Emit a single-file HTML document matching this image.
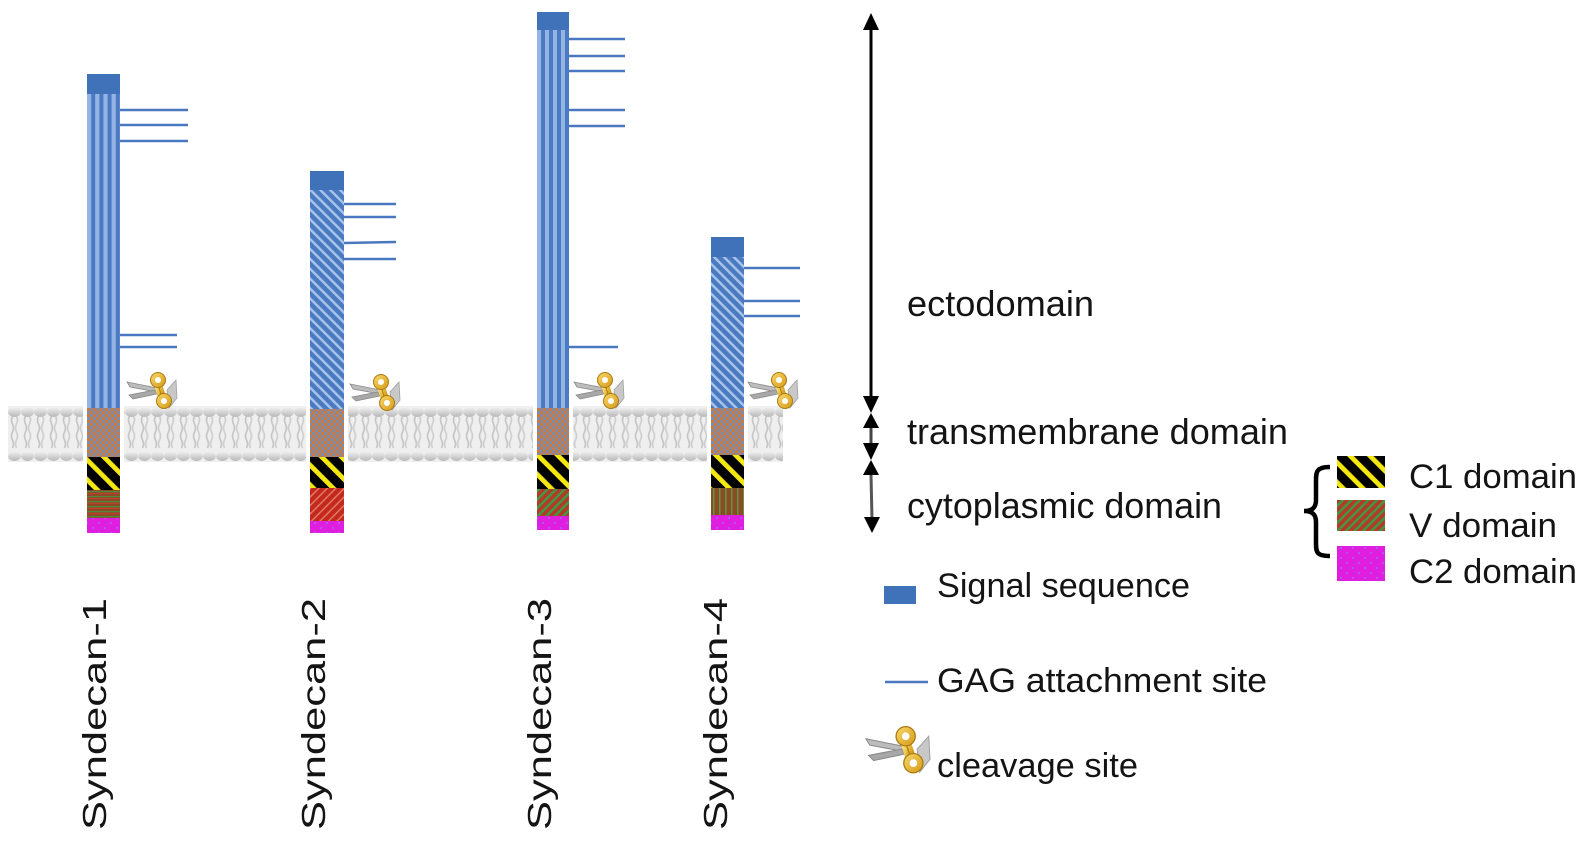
<!DOCTYPE html>
<html><head><meta charset="utf-8"><style>
html,body{margin:0;padding:0;background:#fff;}
svg{display:block;}
text{font-family:"Liberation Sans",sans-serif;fill:#141414;}
</style></head><body>
<svg width="1587" height="845" viewBox="0 0 1587 845" xmlns="http://www.w3.org/2000/svg">
<defs>
  <linearGradient id="hg" x1="0" y1="0" x2="0" y2="1">
    <stop offset="0" stop-color="#f2f2f2"/><stop offset="1" stop-color="#b8b8b8"/>
  </linearGradient>
  <linearGradient id="gold" x1="0" y1="0" x2="1" y2="1">
    <stop offset="0" stop-color="#f8d86a"/><stop offset="1" stop-color="#d69a18"/>
  </linearGradient>
  <pattern id="mem" width="13" height="56" patternUnits="userSpaceOnUse" patternTransform="translate(8,406)">
    <rect width="13" height="56" fill="#efefef"/>
    <path d="M4.5 10 q-2 4 0 8 q2 4 0 8 q-2 4 0 8 q2 4 0 8" fill="none" stroke="#c6c6c6" stroke-width="1.7"/>
    <path d="M8.5 10 q2 4 0 8 q-2 4 0 8 q2 4 0 8 q-2 4 0 8" fill="none" stroke="#cfcfcf" stroke-width="1.7"/>
    <ellipse cx="6.5" cy="6" rx="6.4" ry="5" fill="url(#hg)"/>
    <ellipse cx="6.5" cy="50" rx="6.4" ry="5" fill="url(#hg)"/>
  </pattern>
  <pattern id="vs1" width="8.2" height="10" patternUnits="userSpaceOnUse" patternTransform="translate(87,0)">
    <rect width="8.2" height="10" fill="#4a7bc2"/><rect width="4.2" height="10" fill="#94b4e4"/>
  </pattern>
  <pattern id="vs3" width="8" height="10" patternUnits="userSpaceOnUse" patternTransform="translate(537,0)">
    <rect width="8" height="10" fill="#4a7bc2"/><rect width="4" height="10" fill="#94b4e4"/>
  </pattern>
  <pattern id="dh" width="7" height="7" patternUnits="userSpaceOnUse" patternTransform="rotate(-45)">
    <rect width="7" height="7" fill="#4a7bc0"/><rect width="2.4" height="7" fill="#aac4ec"/>
  </pattern>
  <pattern id="chk" width="6" height="6" patternUnits="userSpaceOnUse">
    <rect width="6" height="6" fill="#c97a3c"/><rect width="3" height="3" fill="#7d8cae"/><rect x="3" y="3" width="3" height="3" fill="#7d8cae"/>
  </pattern>
  <pattern id="c1" width="14" height="14" patternUnits="userSpaceOnUse" patternTransform="rotate(-45)">
    <rect width="14" height="14" fill="#000"/><rect width="4.8" height="14" fill="#f4e810"/>
  </pattern>
  <pattern id="vleg" width="6" height="6" patternUnits="userSpaceOnUse" patternTransform="rotate(45)">
    <rect width="6" height="6" fill="#b23a28"/><rect width="2.4" height="6" fill="#3f9a40"/>
  </pattern>
  <pattern id="v1" width="10" height="5" patternUnits="userSpaceOnUse">
    <rect width="10" height="5" fill="#8c4a28"/><rect y="1" width="10" height="1.2" fill="#4e8c3c"/><rect y="3" width="10" height="1" fill="#c0402a"/>
  </pattern>
  <pattern id="v2" width="6" height="6" patternUnits="userSpaceOnUse" patternTransform="rotate(45)">
    <rect width="6" height="6" fill="#c4281e"/><rect width="1.5" height="6" fill="#e07a62"/>
  </pattern>
  <pattern id="v4" width="6" height="10" patternUnits="userSpaceOnUse" patternTransform="translate(711,0)">
    <rect width="6" height="10" fill="#8c4a28"/><rect x="2" width="1.5" height="10" fill="#5a9a3a"/>
  </pattern>
  <pattern id="c2" width="12" height="10" patternUnits="userSpaceOnUse">
    <rect width="12" height="10" fill="#e01ee0"/><circle cx="3" cy="3" r="0.9" fill="#8a7ef0"/><circle cx="9" cy="8" r="0.9" fill="#8a7ef0"/>
  </pattern>
  <g id="sc">
    <polygon points="0,10 30,16 30,20 3,15" fill="#bcbcbc" stroke="#8a8a8a" stroke-width="0.8"/>
    <polygon points="2,23 28,18 30,22 6,27" fill="#a8a8a8" stroke="#8a8a8a" stroke-width="0.8"/>
    <polygon points="40,18 49,8 50,26 42,36" fill="#c8c8c8" stroke="#a0a0a0" stroke-width="0.8"/>
    <path d="M31 13 L35 25" stroke="url(#gold)" stroke-width="8" stroke-linecap="round"/>
    <path d="M31 13 L35 25" stroke="#b07c10" stroke-width="1" fill="none"/>
    <circle cx="31" cy="8" r="7.5" fill="url(#gold)" stroke="#a87a10" stroke-width="1"/>
    <circle cx="31" cy="8" r="3" fill="#fff"/>
    <circle cx="37" cy="29" r="7.5" fill="url(#gold)" stroke="#a87a10" stroke-width="1"/>
    <circle cx="37" cy="29" r="3" fill="#fff"/>
  </g>
</defs>

<!-- membrane -->
<rect x="8" y="406" width="775" height="56" fill="url(#mem)"/>
<rect x="83" y="400" width="41" height="66" fill="#fff"/>
<rect x="306" y="400" width="42" height="66" fill="#fff"/>
<rect x="533" y="400" width="40" height="66" fill="#fff"/>
<rect x="707" y="400" width="41" height="66" fill="#fff"/>

<!-- GAG lines -->
<g stroke="#4a78c0" stroke-width="2.5">
  <line x1="120" y1="110" x2="188" y2="110"/>
  <line x1="120" y1="125" x2="188" y2="125"/>
  <line x1="120" y1="141" x2="188" y2="141"/>
  <line x1="120" y1="335" x2="177" y2="335"/>
  <line x1="120" y1="347" x2="177" y2="347"/>
  <line x1="344" y1="204" x2="396" y2="204"/>
  <line x1="344" y1="217" x2="396" y2="217"/>
  <line x1="344" y1="243" x2="396" y2="242"/>
  <line x1="344" y1="259" x2="396" y2="259"/>
  <line x1="569" y1="39" x2="625" y2="39"/>
  <line x1="569" y1="56" x2="625" y2="56"/>
  <line x1="569" y1="71" x2="625" y2="71"/>
  <line x1="569" y1="110" x2="625" y2="110"/>
  <line x1="569" y1="126" x2="625" y2="126"/>
  <line x1="569" y1="347" x2="618" y2="347"/>
  <line x1="744" y1="268" x2="800" y2="268"/>
  <line x1="744" y1="301" x2="800" y2="301"/>
  <line x1="744" y1="316" x2="800" y2="316"/>
</g>

<!-- Column 1 -->
<rect x="87" y="74" width="33" height="20" fill="#3f72b8"/>
<rect x="87" y="94" width="33" height="314" fill="url(#vs1)"/>
<rect x="87" y="408" width="33" height="49" fill="url(#chk)"/>
<rect x="87" y="457" width="33" height="33" fill="url(#c1)"/>
<rect x="87" y="490" width="33" height="28" fill="url(#v1)"/>
<rect x="87" y="518" width="33" height="15" fill="url(#c2)"/>

<!-- Column 2 -->
<rect x="310" y="171" width="34" height="19" fill="#3f72b8"/>
<rect x="310" y="190" width="34" height="219" fill="url(#dh)"/>
<rect x="310" y="409" width="34" height="48" fill="url(#chk)"/>
<rect x="310" y="457" width="34" height="31" fill="url(#c1)"/>
<rect x="310" y="488" width="34" height="33" fill="url(#v2)"/>
<rect x="310" y="521" width="34" height="12" fill="url(#c2)"/>

<!-- Column 3 -->
<rect x="537" y="12" width="32" height="18" fill="#3f72b8"/>
<rect x="537" y="30" width="32" height="378" fill="url(#vs3)"/>
<rect x="537" y="408" width="32" height="47" fill="url(#chk)"/>
<rect x="537" y="455" width="32" height="34" fill="url(#c1)"/>
<rect x="537" y="489" width="32" height="27" fill="url(#vleg)"/>
<rect x="537" y="516" width="32" height="14" fill="url(#c2)"/>

<!-- Column 4 -->
<rect x="711" y="237" width="33" height="20" fill="#3f72b8"/>
<rect x="711" y="257" width="33" height="151" fill="url(#dh)"/>
<rect x="711" y="408" width="33" height="47" fill="url(#chk)"/>
<rect x="711" y="455" width="33" height="33" fill="url(#c1)"/>
<rect x="711" y="488" width="33" height="27" fill="url(#v4)"/>
<rect x="711" y="515" width="33" height="15" fill="url(#c2)"/>

<!-- scissors -->
<use href="#sc" transform="translate(127,372)"/>
<use href="#sc" transform="translate(350,374)"/>
<use href="#sc" transform="translate(574,372)"/>
<use href="#sc" transform="translate(748,372)"/>
<use href="#sc" transform="translate(866,726) scale(1.28)"/>

<!-- arrows -->
<line x1="871" y1="28" x2="871" y2="398" stroke="#000" stroke-width="3"/>
<polygon points="871,13 863,30 879,30" fill="#000"/>
<polygon points="871,413 863,396 879,396" fill="#000"/>
<polygon points="871,413 863,428 879,428" fill="#000"/>
<line x1="871" y1="428" x2="871" y2="444" stroke="#444" stroke-width="3"/>
<polygon points="871,460 863,443 879,443" fill="#000"/>
<polygon points="871,460 863,475 879,475" fill="#000"/>
<line x1="871" y1="475" x2="872" y2="519" stroke="#555" stroke-width="3"/>
<polygon points="872,533 864,517 880,517" fill="#000"/>

<!-- domain labels -->
<text x="907" y="316" font-size="36" textLength="187" lengthAdjust="spacingAndGlyphs">ectodomain</text>
<text x="907" y="444" font-size="36" textLength="381" lengthAdjust="spacingAndGlyphs">transmembrane domain</text>
<text x="907" y="518" font-size="36" textLength="315" lengthAdjust="spacingAndGlyphs">cytoplasmic domain</text>

<!-- legend left -->
<rect x="884" y="586" width="32" height="18" fill="#3f72b8"/>
<text x="937" y="597" font-size="34" textLength="253" lengthAdjust="spacingAndGlyphs">Signal sequence</text>
<line x1="885" y1="682" x2="928" y2="682" stroke="#4a78c0" stroke-width="2.5"/>
<text x="937" y="692" font-size="34" textLength="330" lengthAdjust="spacingAndGlyphs">GAG attachment site</text>
<text x="937" y="777" font-size="34" textLength="201" lengthAdjust="spacingAndGlyphs">cleavage site</text>

<!-- legend right -->
<path d="M1330 467 C1316 467 1316 472 1316 482 L1316 500 C1316 508 1312 511 1304 511 C1312 511 1316 514 1316 522 L1316 542 C1316 552 1316 556 1330 556" fill="none" stroke="#000" stroke-width="4.5"/>
<rect x="1337" y="456" width="48" height="32" fill="url(#c1)"/>
<rect x="1337" y="500" width="48" height="31" fill="url(#vleg)"/>
<rect x="1337" y="546" width="48" height="35" fill="url(#c2)"/>
<text x="1409" y="488" font-size="34" textLength="168" lengthAdjust="spacingAndGlyphs">C1 domain</text>
<text x="1409" y="537" font-size="34" textLength="148" lengthAdjust="spacingAndGlyphs">V domain</text>
<text x="1409" y="583" font-size="34" textLength="168" lengthAdjust="spacingAndGlyphs">C2 domain</text>

<!-- syndecan labels -->
<text transform="translate(106,830) rotate(-90)" font-size="33" textLength="232" lengthAdjust="spacingAndGlyphs">Syndecan-1</text>
<text transform="translate(325,830) rotate(-90)" font-size="33" textLength="232" lengthAdjust="spacingAndGlyphs">Syndecan-2</text>
<text transform="translate(551,830) rotate(-90)" font-size="33" textLength="232" lengthAdjust="spacingAndGlyphs">Syndecan-3</text>
<text transform="translate(727,830) rotate(-90)" font-size="33" textLength="232" lengthAdjust="spacingAndGlyphs">Syndecan-4</text>
</svg>
</body></html>
